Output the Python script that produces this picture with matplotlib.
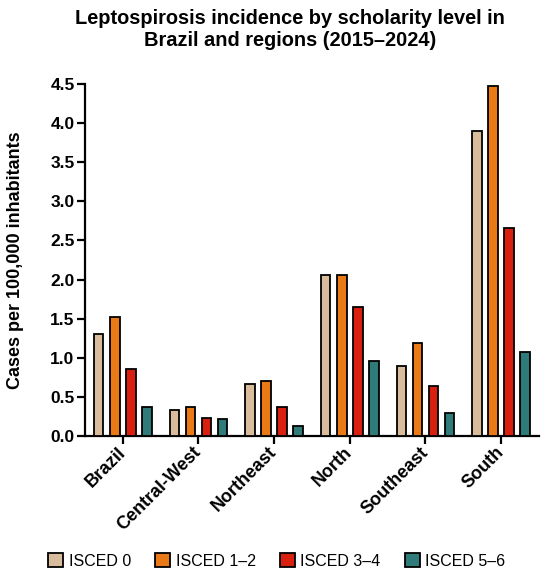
import numpy as np
import matplotlib
matplotlib.use('Agg')
import matplotlib.pyplot as plt

plt.rcParams['font.family'] = ['Liberation Sans', 'DejaVu Sans']

regions = ['Brazil', 'Central-West', 'Northeast', 'North', 'Southeast', 'South']
levels = ['ISCED 0', 'ISCED 1\u20132', 'ISCED 3\u20134', 'ISCED 5\u20136']
isced0 = [1.30, 0.33, 0.67, 2.06, 0.895, 3.90]
isced12 = [1.52, 0.375, 0.70, 2.06, 1.185, 4.48]
isced34 = [0.857, 0.23, 0.375, 1.645, 0.64, 2.66]
isced56 = [0.375, 0.22, 0.13, 0.96, 0.29, 1.07]
colors = ['#D8BC9C', '#E97A16', '#D9200F', '#2F7B7A']

series = [isced0, isced12, isced34, isced56]

fig = plt.figure(figsize=(5.5, 5.74), dpi=100)
ax = fig.add_axes([0.1545, 0.2404, 0.8255, 0.6133])

x = np.arange(len(regions))
step = 0.212
width = 0.125
for i, (vals, c, lab) in enumerate(zip(series, colors, levels)):
    ax.bar(x + (i - 1.5) * step, vals, width, color=c, edgecolor='black',
           linewidth=1.3, label=lab, zorder=3)

ax.set_xlim(-0.5, 5.5)
ax.set_ylim(0, 4.5)
ax.set_yticks(np.arange(0, 4.51, 0.5))
ax.set_yticklabels([f'{v:.1f}' for v in np.arange(0, 4.51, 0.5)],
                   fontsize=12.5, fontweight='bold')
ax.set_xticks(x)
ax.set_xticklabels(regions, rotation=45, ha='right', va='center',
                   rotation_mode='anchor', fontsize=13, fontweight='bold')

ax.set_ylabel('Cases per 100,000 inhabitants', fontsize=13, fontweight='bold')
ax.yaxis.set_label_coords(-0.135, 0.5)

for s in ['top', 'right']:
    ax.spines[s].set_visible(False)
for s in ['left', 'bottom']:
    ax.spines[s].set_linewidth(1.6)
ax.tick_params(axis='both', width=1.6, length=6, pad=1.5)
ax.tick_params(axis='x', pad=4)

fig.text(0.527, 0.985, 'Leptospirosis incidence by scholarity level in\nBrazil and regions (2015\u20132024)',
         ha='center', va='top', fontsize=14.4, fontweight='bold', linespacing=1.2)

fig.legend(loc='lower center', bbox_to_anchor=(0.503, -0.016), ncol=4, frameon=False,
           fontsize=11.5, handlelength=0.95, handleheight=1.0, handletextpad=0.35,
           columnspacing=1.5)

fig.savefig('out.png', dpi=100)
